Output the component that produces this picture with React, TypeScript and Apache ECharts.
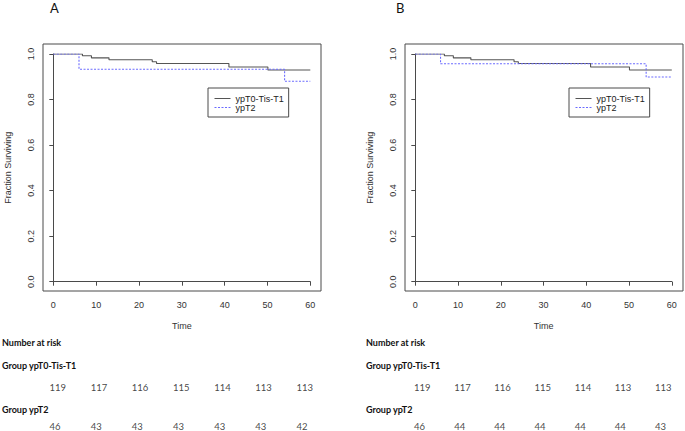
import React, { useEffect, useRef } from "react";
import * as echarts from "echarts";

// Kaplan-Meier curves (time in months, fraction surviving)
const timesT01 = [0, 6.8, 8.9, 13.0, 23.1, 24.1, 41.0, 50.1, 60];
const survT01 = [1, 0.992, 0.983, 0.975, 0.966, 0.958, 0.943, 0.93, 0.93];

const timesT2A = [0, 6.0, 54.0, 60];
const survT2A = [1, 0.933, 0.88, 0.88];

const timesT2B = [0, 5.9, 54.0, 60];
const survT2B = [1, 0.957, 0.899, 0.899];

// Number at risk table
const riskTimes = [0, 10, 20, 30, 40, 50, 60];
const riskA_T01 = [119, 117, 116, 115, 114, 113, 113];
const riskA_T2 = [46, 43, 43, 43, 43, 43, 42];
const riskB_T01 = [119, 117, 116, 115, 114, 113, 113];
const riskB_T2 = [46, 44, 44, 44, 44, 44, 43];

const xTicks = [0, 10, 20, 30, 40, 50, 60];
const yTicks = [0, 0.2, 0.4, 0.6, 0.8, 1.0];

const NAME1 = "ypT0-Tis-T1";
const NAME2 = "ypT2";

const zip = (a: number[], b: number[]) => a.map((v, i) => [v, b[i]]);

const AXIS_FONT = "Liberation Sans";
const TABLE_FONT = "Lato";
const LINE_COLOR = "#4a4a4a";

export default function App() {
  const ref = useRef<HTMLDivElement>(null);

  useEffect(() => {
    if (!ref.current) return;
    const chart = echarts.init(ref.current, undefined, { renderer: "svg" });

    const panels = [
      { boxLeft: 43, axLeft: 53.3, axWidth: 257, riskLeft: 49.5, riskWidth: 247, t2: zip(timesT2A, survT2A), r1: riskA_T01, r2: riskA_T2, legendLeft: 208 },
      { boxLeft: 405, axLeft: 415.3, axWidth: 256.5, riskLeft: 414, riskWidth: 241, t2: zip(timesT2B, survT2B), r1: riskB_T01, r2: riskB_T2, legendLeft: 569 },
    ];

    const grid: any[] = [];
    const xAxis: any[] = [];
    const yAxis: any[] = [];
    const series: any[] = [];
    const legend: any[] = [];

    panels.forEach((p) => {
      const g0 = grid.length;
      grid.push({ left: p.boxLeft, top: 44, width: 278, height: 247, show: true, borderColor: LINE_COLOR, borderWidth: 1, backgroundColor: "transparent" });
      grid.push({ left: p.axLeft, top: 54, width: p.axWidth, height: 227.7 });
      grid.push({ left: p.riskLeft, top: 387, width: p.riskWidth, height: 39 });

      xAxis.push({ gridIndex: g0, type: "value", min: -2.4, max: 62.4, show: false });
      yAxis.push({ gridIndex: g0, type: "value", min: -0.04, max: 1.04, show: false });

      xAxis.push({
        gridIndex: g0 + 1, type: "value", min: xTicks[0], max: xTicks[xTicks.length - 1], interval: 10,
        position: "bottom", offset: 9.3,
        axisLine: { show: true, lineStyle: { color: LINE_COLOR, width: 1 } },
        axisTick: { show: true, length: 4, lineStyle: { color: LINE_COLOR } },
        axisLabel: { fontSize: 9, margin: 9, color: "#333", fontFamily: AXIS_FONT },
        splitLine: { show: false },
        name: "Time", nameLocation: "middle", nameGap: 30,
        nameTextStyle: { fontSize: 9, color: "#333", fontFamily: AXIS_FONT },
      });
      yAxis.push({
        gridIndex: g0 + 1, type: "value", min: yTicks[0], max: yTicks[yTicks.length - 1], interval: 0.2,
        position: "left", offset: 10.3,
        axisLine: { show: true, lineStyle: { color: LINE_COLOR, width: 1 } },
        axisTick: { show: true, length: 4, lineStyle: { color: LINE_COLOR } },
        axisLabel: { fontSize: 9, margin: 8, rotate: 90, color: "#333", fontFamily: AXIS_FONT, formatter: (v: number) => v.toFixed(1) },
        splitLine: { show: false },
        name: "Fraction Surviving", nameLocation: "middle", nameGap: 31,
        nameTextStyle: { fontSize: 9, color: "#333", fontFamily: AXIS_FONT },
      });

      xAxis.push({ gridIndex: g0 + 2, type: "value", min: 0, max: 60, show: false });
      yAxis.push({ gridIndex: g0 + 2, type: "value", min: 0, max: 1, show: false });

      const ax = xAxis.length - 2;
      series.push({
        name: NAME1, type: "line", step: "end", symbol: "none", xAxisIndex: ax, yAxisIndex: ax,
        data: zip(timesT01, survT01), lineStyle: { color: "#555", width: 1.1 }, itemStyle: { color: "#555" },
      });
      series.push({
        name: NAME2, type: "line", step: "end", symbol: "none", xAxisIndex: ax, yAxisIndex: ax,
        data: p.t2, lineStyle: { color: "#6b6bff", width: 1.1, type: [2, 1.5] }, itemStyle: { color: "#6b6bff" },
      });

      const rx = xAxis.length - 1;
      const mk = (vals: number[], row: number) => ({
        type: "scatter", xAxisIndex: rx, yAxisIndex: rx, symbolSize: 0, silent: true,
        data: riskTimes.map((t, i) => [t, row, vals[i]]),
        label: {
          show: true, position: "right", distance: 0, fontSize: 9.5, color: "#111", fontFamily: TABLE_FONT,
          formatter: (pp: any) => String(pp.value[2]),
        },
      });
      series.push(mk(p.r1, 1));
      series.push(mk(p.r2, 0));

      legend.push({
        left: p.legendLeft, top: 88, orient: "vertical", selectedMode: false,
        data: [{ name: NAME1 }, { name: NAME2 }],
        itemWidth: 16, itemHeight: 9, itemGap: 0,
        padding: [6, 5, 5, 6],
        borderColor: LINE_COLOR, borderWidth: 1, borderRadius: 0,
        itemStyle: { opacity: 0, borderWidth: 0 },
        lineStyle: { width: 1 },
        textStyle: { fontSize: 9, color: "#222", fontFamily: AXIS_FONT, lineHeight: 9 },
      });
    });

    const headerFont = `bold 9px ${TABLE_FONT}`;
    const hdr = (text: string, x: number, y: number) => ({
      type: "text", x, y, silent: true,
      style: { text, font: headerFont, fill: "#111", verticalAlign: "middle", align: "left" },
    });
    const graphic: any[] = [
      { type: "text", x: 54.3, y: 8, silent: true, style: { text: "A", font: `13px ${TABLE_FONT}`, fill: "#111", align: "center", verticalAlign: "middle" } },
      { type: "text", x: 400.3, y: 8, silent: true, style: { text: "B", font: `13px ${TABLE_FONT}`, fill: "#111", align: "center", verticalAlign: "middle" } },
      hdr("Number at risk", 2, 342),
      hdr(`Group ${NAME1}`, 2, 365),
      hdr(`Group ${NAME2}`, 2, 409),
      hdr("Number at risk", 366, 342),
      hdr(`Group ${NAME1}`, 366, 365),
      hdr(`Group ${NAME2}`, 366, 409),
    ];

    chart.setOption({
      animation: false,
      backgroundColor: "#fff",
      grid, xAxis, yAxis, series, legend, graphic,
    });

    return () => chart.dispose();
  }, []);

  return <div ref={ref} style={{ position: "fixed", left: 0, top: 0, width: 685, height: 431 }} />;
}
